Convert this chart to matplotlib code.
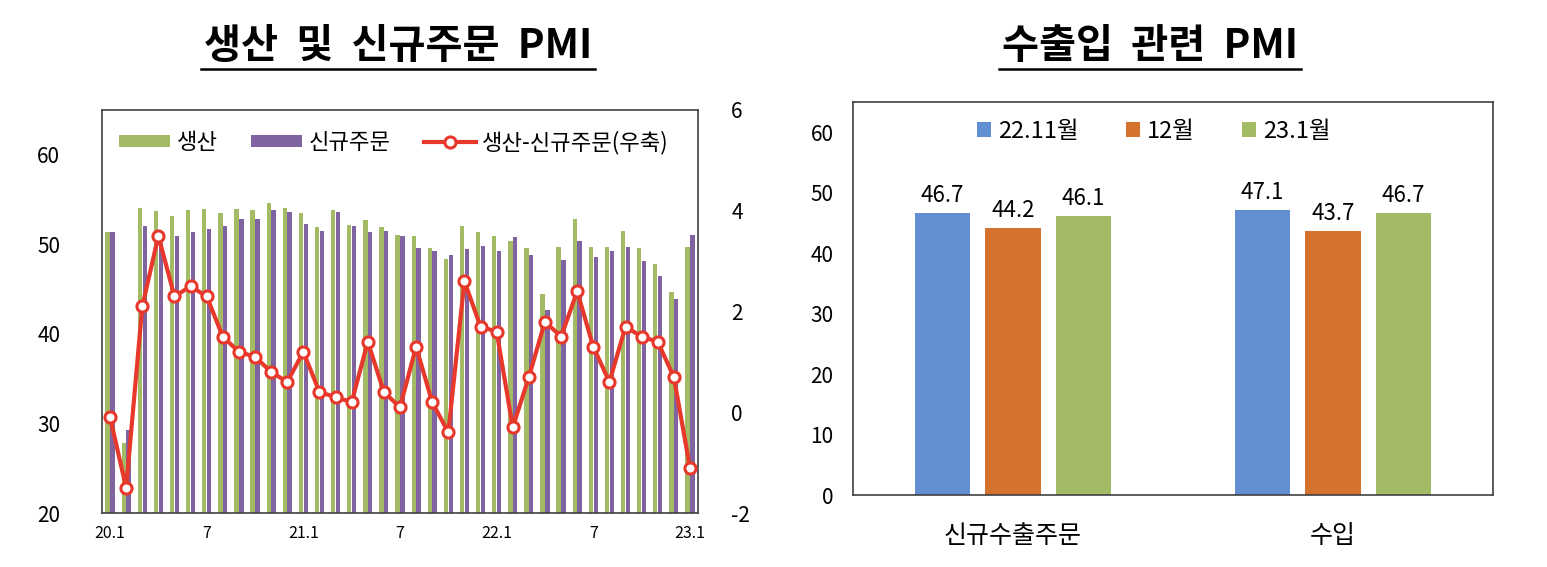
import matplotlib
matplotlib.use("Agg")
import matplotlib.pyplot as plt
from matplotlib.lines import Line2D
import numpy as np

plt.rcParams['font.family'] = ['Noto Sans CJK KR', 'DejaVu Sans']
plt.rcParams['axes.unicode_minus'] = False

# ---- data: left chart ----
months = ["20.1", "", "", "", "", "", "7", "", "", "", "", "",
          "21.1", "", "", "", "", "", "7", "", "", "", "", "",
          "22.1", "", "", "", "", "", "7", "", "", "", "", "",
          "23.1"]
production = [51.4, 27.8, 54.1, 53.7, 53.2, 53.8, 54.0, 53.5, 54.0, 53.8, 54.6, 54.1,
              53.5, 51.9, 53.8, 52.2, 52.7, 51.9, 51.0, 50.9, 49.6, 48.4, 52.1, 51.4,
              50.9, 50.4, 49.6, 44.5, 49.7, 52.8, 49.7, 49.7, 51.5, 49.6, 47.8, 44.7,
              49.7]
new_orders = [51.4, 29.3, 52.1, 50.2, 50.9, 51.4, 51.7, 52.1, 52.8, 52.8, 53.8, 53.6,
              52.3, 51.5, 53.6, 52.0, 51.4, 51.5, 50.9, 49.6, 49.3, 48.8, 49.5, 49.8,
              49.3, 50.8, 48.8, 42.7, 48.3, 50.4, 48.6, 49.2, 49.7, 48.1, 46.5, 43.9,
              51.0]
gap = [-0.1, -1.5, 2.1, 3.5, 2.3, 2.5, 2.3, 1.5, 1.2, 1.1, 0.8, 0.6,
       1.2, 0.4, 0.3, 0.2, 1.4, 0.4, 0.1, 1.3, 0.2, -0.4, 2.6, 1.7,
       1.6, -0.3, 0.7, 1.8, 1.5, 2.4, 1.3, 0.6, 1.7, 1.5, 1.4, 0.7,
       -1.1]

# ---- data: right chart ----
trade_cats = ["신규수출주문", "수입"]
trade_series = ["22.11월", "12월", "23.1월"]
trade_vals = {
    "22.11월": [46.7, 47.1],
    "12월": [44.2, 43.7],
    "23.1월": [46.1, 46.7],
}

GREEN = "#A2BB64"
PURPLE = "#8064A2"
RED = "#E8382B"
BLUE = "#628FD2"
ORANGE = "#D6722F"

fig = plt.figure(figsize=(15.47, 5.67), dpi=100)

# ---------------- left chart ----------------
ax = fig.add_axes([102/1547, 54/567, 596/1547, 403/567])
x = np.arange(len(months))
bw = 0.27
ax.bar(x - 0.15, production, width=bw, color=GREEN, label="생산", zorder=2)
ax.bar(x + 0.15, new_orders, width=bw, color=PURPLE, label="신규주문", zorder=2)
ax.set_xlim(-0.5, len(months) - 0.5)
ax.set_ylim(20, 65)
ax.set_yticks([20, 30, 40, 50, 60])
ax.tick_params(axis='y', length=0, labelsize=15, pad=30)
ax.set_xticks(x)
ax.set_xticklabels(months, fontsize=11.5)
ax.tick_params(axis='x', length=0, pad=9)
for s in ax.spines.values():
    s.set_color("#404040")
    s.set_linewidth(1.2)

ax2 = ax.twinx()
ax2.plot(x, gap, color=RED, lw=3, marker='o', ms=8, mfc='white', mec=RED, mew=2.2,
         label="생산-신규주문(우축)", zorder=5)
ax2.set_ylim(-2, 6)
ax2.set_yticks([-2, 0, 2, 4, 6])
ax2.tick_params(axis='y', length=0, labelsize=15, pad=24)
for s in ax2.spines.values():
    s.set_visible(False)

h1, l1 = ax.get_legend_handles_labels()
h2, l2 = ax2.get_legend_handles_labels()
ax2.legend(h1 + h2, l1 + l2, loc='center', bbox_to_anchor=(0.49, 0.92), ncol=3,
           frameon=False, fontsize=16, handlelength=2.3, handleheight=0.45,
           columnspacing=1.5, handletextpad=0.3)

# ---------------- right chart ----------------
axr = fig.add_axes([853/1547, 72/567, 640/1547, 393/567])
xc = np.arange(len(trade_cats))
colors = [BLUE, ORANGE, GREEN]
offs = [-0.22, 0.0, 0.22]
for name, col, off in zip(trade_series, colors, offs):
    vals = trade_vals[name]
    bars = axr.bar(xc + off, vals, width=0.172, color=col, label=name)
    for b, v in zip(bars, vals):
        axr.text(b.get_x() + b.get_width() / 2, v + 1.0, f"{v:.1f}", ha='center',
                 va='bottom', fontsize=16)
axr.set_xlim(-0.5, 1.5)
axr.set_ylim(0, 65)
axr.set_yticks(range(0, 61, 10))
axr.tick_params(axis='y', length=0, labelsize=15, pad=14)
axr.set_xticks(xc)
axr.set_xticklabels(trade_cats, fontsize=18)
axr.tick_params(axis='x', length=0, pad=20)
for s in axr.spines.values():
    s.set_color("#404040")
    s.set_linewidth(1.2)
axr.legend(loc='center', bbox_to_anchor=(0.47, 0.925), ncol=3, frameon=False,
           fontsize=17, handlelength=0.6, handleheight=0.6, columnspacing=2.0,
           handletextpad=0.3)

# ---------------- titles with underline ----------------
t1 = fig.text(398/1547, 1 - 47/567, "생산  및  신규주문  PMI", ha='center', va='center',
              fontsize=29, fontweight='bold')
t2 = fig.text(1150/1547, 1 - 47/567, "수출입  관련  PMI", ha='center', va='center',
              fontsize=29, fontweight='bold')
fig.canvas.draw()
r = fig.canvas.get_renderer()
for t in (t1, t2):
    bb = t.get_window_extent(r)
    y = (bb.y0 - 1) / fig.bbox.height
    fig.add_artist(Line2D([(bb.x0 - 3) / fig.bbox.width, (bb.x1 + 3) / fig.bbox.width],
                          [y, y], color='black', lw=1.8, transform=fig.transFigure))

fig.savefig("out.png", dpi=100)
